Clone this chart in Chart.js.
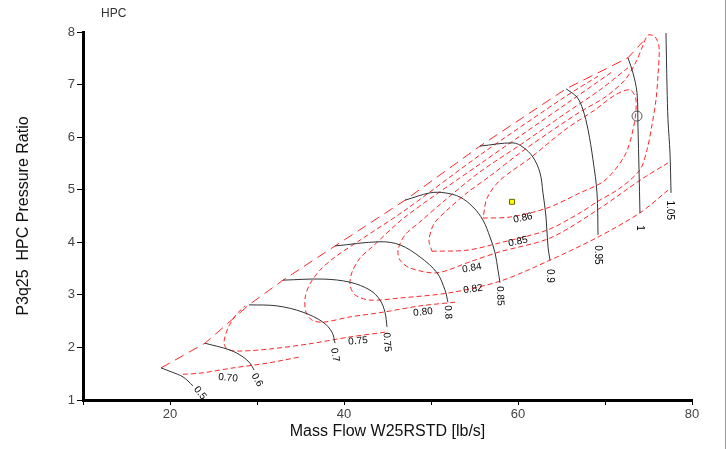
<!DOCTYPE html>
<html>
<head>
<meta charset="utf-8">
<script src="https://cdn.jsdelivr.net/npm/chart.js@4.4.1/dist/chart.umd.min.js"></script>
<style>
  body { margin: 0; background: #fff; }
  #wrap { width: 726px; height: 449px; }
</style>
</head>
<body>
<div id="wrap"><canvas id="hpcMap" width="726" height="449"></canvas></div>
<script>
//GLOBAL VARS
var xTicks = [10, 20, 30, 40, 50, 60, 70, 80];
var yTicks = [1, 2, 3, 4, 5, 6, 7, 8];

// speed lines (corrected speed), mass flow [lb/s] / pressure ratio
var speedNames = ["0.5", "0.6", "0.7", "0.75", "0.8", "0.85", "0.9", "0.95", "1", "1.05"];
var speed050 = [[18.97,1.61],[20.23,1.53],[21.49,1.44],[22.64,1.27]];
var speed060 = [[24.02,2.08],[26.90,1.95],[28.39,1.82],[29.20,1.70],[29.66,1.57]];
var speed070 = [[29.08,2.81],[32.30,2.79],[35.29,2.67],[37.59,2.48],[38.62,2.29],[38.97,2.08]];
var speed075 = [[32.99,3.28],[37.59,3.30],[40.69,3.24],[42.99,3.09],[44.14,2.90],[44.71,2.67],[44.94,2.39]];
var speed080 = [[38.97,3.93],[44.14,4.01],[46.44,3.95],[48.74,3.72],[50.69,3.42],[51.61,3.09],[51.95,2.86]];
var speed085 = [[47.01,4.80],[49.89,4.94],[51.61,4.94],[53.33,4.86],[54.83,4.67],[55.98,4.42],[56.78,4.10],[57.36,3.80],[57.70,3.47],[57.93,3.23]];
var speed090 = [[55.63,5.83],[59.43,5.89],[60.57,5.81],[61.72,5.62],[62.53,5.32],[62.87,4.94],[63.22,4.48],[63.45,3.91],[63.68,3.66]];
var speed095 = [[65.52,6.92],[66.78,6.76],[67.47,6.52],[68.05,6.14],[68.62,5.57],[69.08,4.94],[69.20,4.14]];
var speed100 = [[72.64,7.51],[73.22,7.22],[73.68,6.84],[73.79,6.19],[73.91,5.38],[74.02,4.56]];
var speed105 = [[77.01,7.98],[77.13,6.95],[77.24,6.33],[77.47,5.70],[77.59,4.94]];
var speedLabelPos = [[23.45,1.13,50],[30.00,1.38,60],[38.97,1.86,80],[44.94,2.10,85],[51.95,2.67,86],[57.93,2.98,88],[63.68,3.36,90],[69.20,3.76,90],[74.02,4.27,90],[77.47,4.61,90]];

var surgeLine = [[18.97,1.61],[24.02,2.08],[29.08,2.81],[32.99,3.28],[38.97,3.93],[47.01,4.80],[55.63,5.83],[65.52,6.92],[72.64,7.51],[74.37,7.82]];

// efficiency contours
var effNames = ["0.70", "0.75", "0.80", "0.82", "0.84", "0.85", "0.86"];
var eff070 = [[21.49,1.49],[23.45,1.51],[27.24,1.61],[31.15,1.70],[34.94,1.82]];
var eff075 = [[44.71,2.29],[40.69,2.20],[36.09,2.07],[31.49,1.97],[27.70,1.93],[26.55,1.97],[26.21,2.10],[26.67,2.37],[27.59,2.62],[28.62,2.79]];
var eff080 = [[52.76,2.86],[48.74,2.79],[44.48,2.67],[40.69,2.58],[37.59,2.48],[36.32,2.52],[35.63,2.67],[35.52,2.94],[36.09,3.21],[37.24,3.47],[38.97,3.72],[41.84,4.04],[47.01,4.61],[55.63,5.66],[65.52,6.78],[69.20,7.16]];
var eff082 = [[77.24,4.99],[74.02,4.56],[69.20,4.10],[63.68,3.66],[57.93,3.26],[52.18,3.04],[46.44,2.94],[42.99,2.90],[41.26,3.00],[40.69,3.19],[40.92,3.43],[41.84,3.70],[43.22,3.91],[47.01,4.48],[55.63,5.49],[65.52,6.63],[70.80,7.24]];
var eff084 = [[77.24,5.51],[74.02,5.18],[69.08,4.61],[63.68,4.08],[57.93,3.82],[54.48,3.63],[50.69,3.42],[47.59,3.51],[46.44,3.66],[46.21,3.85],[47.01,4.14],[48.74,4.39],[51.61,4.80],[55.63,5.34],[60.23,5.85],[65.52,6.46],[69.43,6.90],[72.64,7.32]];
var eff085 = [[50.11,3.83],[54.14,3.85],[57.93,3.99],[63.33,4.23],[67.13,4.56],[69.08,4.77],[71.72,5.03],[74.02,5.38],[74.83,5.76],[75.40,6.23],[75.86,6.71],[76.09,7.18],[76.21,7.71],[75.75,7.91],[74.94,7.94],[74.37,7.75],[73.56,7.43],[72.30,7.09],[70.00,6.76],[67.13,6.48],[63.68,6.10],[60.23,5.70],[56.78,5.26],[54.14,4.94],[51.84,4.61],[50.34,4.35],[49.77,4.04],[50.11,3.83]];
var eff086 = [[55.98,4.46],[59.08,4.48],[63.33,4.65],[67.13,4.94],[70.00,5.18],[72.30,5.66],[73.33,6.23],[73.56,6.71],[72.87,6.90],[71.15,6.80],[68.85,6.52],[65.40,6.14],[61.38,5.60],[57.93,5.18],[56.44,4.84],[55.98,4.46]];
var effLabelPos = [[26.67,1.42,6],[41.61,2.12,-6],[49.08,2.67,-6],[54.83,3.11,-8],[54.71,3.51,-10],[60.00,4.01,-12],[60.57,4.46,-12]];

var designPoint = [[59.31,4.77]];
var opPoint = [[73.68,6.40]];

var hpcChart;

function toXY(arr)
{
    return arr.map(function (p) { return { x: p[0], y: p[1] }; });
}

function speedSet(arr)
{
    return { data: toXY(arr), showLine: true, borderColor: "#333", borderWidth: 1, pointRadius: 0, tension: 0.35, fill: false };
}

function effSet(arr)
{
    return { data: toXY(arr), showLine: true, borderColor: "rgba(255,0,0,0.85)", borderWidth: 1, borderDash: [5, 3], pointRadius: 0, tension: 0.3, fill: false };
}

var labelPlugin = {
    id: "mapLabels",
    afterDatasetsDraw: function (chart) {
        var ctx = chart.ctx;
        var xs = chart.scales.x, ys = chart.scales.y;
        ctx.save();
        ctx.fillStyle = "#000";
        ctx.font = "10px 'Liberation Sans', Arial, sans-serif";
        ctx.textAlign = "center";
        ctx.textBaseline = "middle";
        function put(txt, p) {
            ctx.save();
            ctx.translate(xs.getPixelForValue(p[0]), ys.getPixelForValue(p[1]));
            ctx.rotate(p[2] * Math.PI / 180);
            ctx.fillText(txt, 0, 0);
            ctx.restore();
        }
        speedNames.forEach(function (n, i) { put(n, speedLabelPos[i]); });
        effNames.forEach(function (n, i) { put(n, effLabelPos[i]); });
        // chart name
        ctx.fillStyle = "#333";
        ctx.font = "12px 'Liberation Sans', Arial, sans-serif";
        ctx.textAlign = "left";
        ctx.fillText("HPC", 101, 14);
        // frame line on right
        ctx.fillStyle = "#999";
        ctx.fillRect(725, 0, 1, chart.height);
        ctx.restore();
    }
};

function initialiseHpcChart()
{
    var sets = [];
    [speed050, speed060, speed070, speed075, speed080, speed085, speed090, speed095, speed100, speed105].forEach(function (s) { sets.push(speedSet(s)); });
    sets.push({ data: toXY(surgeLine), showLine: true, borderColor: "rgba(255,0,0,0.85)", borderWidth: 1, borderDash: [10, 6], pointRadius: 0, tension: 0, fill: false });
    [eff070, eff075, eff080, eff082, eff084, eff085, eff086].forEach(function (s) { sets.push(effSet(s)); });
    sets.push({ data: toXY(designPoint), pointStyle: "rect", pointRadius: 3.5, backgroundColor: "#ffff00", borderColor: "#666600", borderWidth: 1 });
    sets.push({ data: toXY(opPoint), pointStyle: "circle", pointRadius: 5, backgroundColor: "#fff", borderColor: "#555", borderWidth: 1 });

    var tickFont = { family: "'Liberation Sans', Arial, sans-serif", size: 13 };
    hpcChart = new Chart(document.getElementById("hpcMap").getContext("2d"), {
        type: "scatter",
        data: { datasets: sets },
        options: {
            responsive: false,
            animation: false,
            layout: { padding: { left: 0, top: 32, right: 34, bottom: 0 } },
            plugins: { legend: { display: false }, tooltip: { enabled: false } },
            scales: {
                x: {
                    type: "linear", min: 10, max: 80,
                    afterBuildTicks: function (s) { s.ticks = xTicks.map(function (v) { return { value: v }; }); },
                    afterFit: function (s) { s.height = 49; },
                    ticks: { color: "#444", font: tickFont, padding: 2, maxRotation: 0,
                             callback: function (v) { return (v % 20 === 0) ? v : ""; } },
                    grid: { drawOnChartArea: false, drawTicks: true, tickLength: 5, color: "#000" },
                    border: { display: true, width: 3, color: "#000" },
                    title: { display: true, text: "Mass Flow W25RSTD [lb/s]", color: "#111",
                             font: { family: "'Liberation Sans', Arial, sans-serif", size: 16 }, padding: { top: 0, bottom: 8 } }
                },
                y: {
                    type: "linear", min: 1, max: 8,
                    afterBuildTicks: function (s) { s.ticks = yTicks.map(function (v) { return { value: v }; }); },
                    afterFit: function (s) { s.width = 83; },
                    ticks: { color: "#444", font: tickFont, padding: 2 },
                    grid: { drawOnChartArea: false, drawTicks: true, tickLength: 6, color: "#000" },
                    border: { display: true, width: 3, color: "#000" },
                    title: { display: true, text: "P3q25  HPC Pressure Ratio", color: "#111",
                             font: { family: "'Liberation Sans', Arial, sans-serif", size: 16 }, padding: { top: 14, bottom: 0 } }
                }
            }
        },
        plugins: [labelPlugin]
    });
}

initialiseHpcChart();
</script>
</body>
</html>
